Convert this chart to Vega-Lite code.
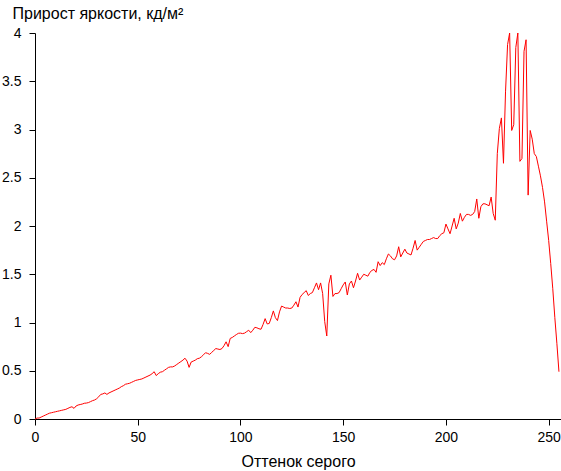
{
  "$schema": "https://vega.github.io/schema/vega-lite/v6.json",
  "width": 526,
  "height": 386,
  "autosize": "none",
  "padding": {"left": 35, "top": 33, "right": 0, "bottom": 52},
  "background": "white",
  "data": {"values": [
    {"g":0,"v":0.00},{"g":1,"v":0.01},{"g":2,"v":0.01},{"g":3,"v":0.02},{"g":4,"v":0.03},{"g":5,"v":0.04},{"g":6,"v":0.05},{"g":7,"v":0.06},{"g":8,"v":0.065},{"g":9,"v":0.07},
    {"g":10,"v":0.075},{"g":11,"v":0.08},{"g":12,"v":0.085},{"g":13,"v":0.09},{"g":14,"v":0.095},{"g":15,"v":0.10},{"g":16,"v":0.11},{"g":17,"v":0.12},{"g":18,"v":0.127},{"g":19,"v":0.11},
    {"g":20,"v":0.135},{"g":21,"v":0.145},{"g":22,"v":0.15},{"g":23,"v":0.155},{"g":24,"v":0.163},{"g":25,"v":0.165},{"g":26,"v":0.17},{"g":27,"v":0.18},{"g":28,"v":0.19},{"g":29,"v":0.197},
    {"g":30,"v":0.21},{"g":31,"v":0.23},{"g":32,"v":0.255},{"g":33,"v":0.26},{"g":34,"v":0.27},{"g":35,"v":0.255},{"g":36,"v":0.27},{"g":37,"v":0.28},{"g":38,"v":0.29},{"g":39,"v":0.30},
    {"g":40,"v":0.31},{"g":41,"v":0.32},{"g":42,"v":0.335},{"g":43,"v":0.345},{"g":44,"v":0.36},{"g":45,"v":0.365},{"g":46,"v":0.37},{"g":47,"v":0.38},{"g":48,"v":0.39},{"g":49,"v":0.40},
    {"g":50,"v":0.405},{"g":51,"v":0.41},{"g":52,"v":0.415},{"g":53,"v":0.425},{"g":54,"v":0.435},{"g":55,"v":0.445},{"g":56,"v":0.455},{"g":57,"v":0.47},{"g":58,"v":0.49},{"g":59,"v":0.45},
    {"g":60,"v":0.47},{"g":61,"v":0.485},{"g":62,"v":0.49},{"g":63,"v":0.505},{"g":64,"v":0.52},{"g":65,"v":0.535},{"g":66,"v":0.54},{"g":67,"v":0.54},{"g":68,"v":0.55},{"g":69,"v":0.565},
    {"g":70,"v":0.58},{"g":71,"v":0.595},{"g":72,"v":0.61},{"g":73,"v":0.63},{"g":74,"v":0.60},{"g":75,"v":0.535},{"g":76,"v":0.59},{"g":77,"v":0.60},{"g":78,"v":0.61},{"g":79,"v":0.625},
    {"g":80,"v":0.63},{"g":81,"v":0.645},{"g":82,"v":0.665},{"g":83,"v":0.687},{"g":84,"v":0.68},{"g":85,"v":0.67},{"g":86,"v":0.69},{"g":87,"v":0.71},{"g":88,"v":0.73},{"g":89,"v":0.725},
    {"g":90,"v":0.72},{"g":91,"v":0.73},{"g":92,"v":0.76},{"g":93,"v":0.80},{"g":94,"v":0.75},{"g":95,"v":0.835},{"g":96,"v":0.845},{"g":97,"v":0.86},{"g":98,"v":0.875},{"g":99,"v":0.888},
    {"g":100,"v":0.89},{"g":101,"v":0.885},{"g":102,"v":0.89},{"g":103,"v":0.905},{"g":104,"v":0.92},{"g":105,"v":0.895},{"g":106,"v":0.92},{"g":107,"v":0.95},{"g":108,"v":0.945},{"g":109,"v":0.935},
    {"g":110,"v":0.93},{"g":111,"v":0.98},{"g":112,"v":1.04},{"g":113,"v":0.985},{"g":114,"v":0.99},{"g":115,"v":1.05},{"g":116,"v":1.12},{"g":117,"v":1.05},{"g":118,"v":1.02},{"g":119,"v":1.11},
    {"g":120,"v":1.17},{"g":121,"v":1.16},{"g":122,"v":1.15},{"g":123,"v":1.15},{"g":124,"v":1.145},{"g":125,"v":1.15},{"g":126,"v":1.18},{"g":127,"v":1.215},{"g":128,"v":1.16},{"g":129,"v":1.26},
    {"g":130,"v":1.29},{"g":131,"v":1.31},{"g":132,"v":1.33},{"g":133,"v":1.28},{"g":134,"v":1.30},{"g":135,"v":1.31},{"g":136,"v":1.36},{"g":137,"v":1.41},{"g":138,"v":1.34},{"g":139,"v":1.41},
    {"g":140,"v":1.30},{"g":141,"v":1.01},{"g":142,"v":0.86},{"g":143,"v":1.40},{"g":144,"v":1.49},{"g":145,"v":1.27},{"g":146,"v":1.30},{"g":147,"v":1.30},{"g":148,"v":1.31},{"g":149,"v":1.35},
    {"g":150,"v":1.39},{"g":151,"v":1.42},{"g":152,"v":1.285},{"g":153,"v":1.40},{"g":154,"v":1.43},{"g":155,"v":1.36},{"g":156,"v":1.43},{"g":157,"v":1.51},{"g":158,"v":1.44},{"g":159,"v":1.47},
    {"g":160,"v":1.50},{"g":161,"v":1.49},{"g":162,"v":1.48},{"g":163,"v":1.52},{"g":164,"v":1.54},{"g":165,"v":1.55},{"g":166,"v":1.52},{"g":167,"v":1.63},{"g":168,"v":1.59},{"g":169,"v":1.62},
    {"g":170,"v":1.60},{"g":171,"v":1.66},{"g":172,"v":1.71},{"g":173,"v":1.69},{"g":174,"v":1.66},{"g":175,"v":1.65},{"g":176,"v":1.69},{"g":177,"v":1.785},{"g":178,"v":1.68},{"g":179,"v":1.72},
    {"g":180,"v":1.76},{"g":181,"v":1.72},{"g":182,"v":1.71},{"g":183,"v":1.70},{"g":184,"v":1.77},{"g":185,"v":1.85},{"g":186,"v":1.75},{"g":187,"v":1.78},{"g":188,"v":1.81},{"g":189,"v":1.84},
    {"g":190,"v":1.85},{"g":191,"v":1.86},{"g":192,"v":1.86},{"g":193,"v":1.87},{"g":194,"v":1.88},{"g":195,"v":1.87},{"g":196,"v":1.87},{"g":197,"v":1.90},{"g":198,"v":1.92},{"g":199,"v":1.93},
    {"g":200,"v":2.02},{"g":201,"v":1.97},{"g":202,"v":1.92},{"g":203,"v":2.00},{"g":204,"v":2.08},{"g":205,"v":1.97},{"g":206,"v":2.03},{"g":207,"v":2.13},{"g":208,"v":2.05},{"g":209,"v":2.09},
    {"g":210,"v":2.12},{"g":211,"v":2.12},{"g":212,"v":2.11},{"g":213,"v":2.12},{"g":214,"v":2.15},{"g":215,"v":2.28},{"g":216,"v":2.08},{"g":217,"v":2.20},{"g":218,"v":2.23},{"g":219,"v":2.23},
    {"g":220,"v":2.22},{"g":221,"v":2.21},{"g":222,"v":2.30},{"g":223,"v":2.13},{"g":224,"v":2.06},{"g":225,"v":2.75},{"g":226,"v":3.01},{"g":227,"v":3.12},{"g":228,"v":2.65},{"g":229,"v":3.39},
    {"g":230,"v":3.88},{"g":231,"v":4.00},{"g":232,"v":2.99},{"g":233,"v":3.05},{"g":234,"v":3.85},{"g":235,"v":4.00},{"g":236,"v":2.67},{"g":237,"v":2.70},{"g":238,"v":3.81},{"g":239,"v":3.93},
    {"g":240,"v":2.32},{"g":241,"v":2.99},{"g":242,"v":2.90},{"g":243,"v":2.75},{"g":244,"v":2.72},{"g":245,"v":2.62},{"g":246,"v":2.52},{"g":247,"v":2.40},{"g":248,"v":2.25},{"g":249,"v":2.05},
    {"g":250,"v":1.85},{"g":251,"v":1.61},{"g":252,"v":1.35},{"g":253,"v":1.05},{"g":254,"v":0.78},{"g":255,"v":0.49}
  ]},
  "mark": {"type": "line", "color": "#ff0000", "strokeWidth": 1, "clip": false},
  "encoding": {
    "x": {
      "field": "g", "type": "quantitative",
      "scale": {"domain": [0, 256], "nice": false, "zero": false},
      "axis": {
        "title": "Оттенок серого",
        "values": [0, 50, 100, 150, 200, 250],
        "format": "d",
        "labelPadding": 5,
        "titlePadding": 9,
        "labelFlush": false,
        "labelOverlap": false
      }
    },
    "y": {
      "field": "v", "type": "quantitative",
      "scale": {"domain": [0, 4], "nice": false},
      "axis": {
        "title": "Прирост яркости, кд/м²",
        "values": [0, 0.5, 1, 1.5, 2, 2.5, 3, 3.5, 4],
        "format": "~g",
        "labelPadding": 8,
        "labelFlush": false,
        "labelOverlap": false,
        "titleAngle": 0,
        "titleAlign": "left",
        "titleBaseline": "alphabetic",
        "titleX": -23,
        "titleY": -15
      }
    }
  },
  "config": {
    "view": {"stroke": null},
    "font": "Liberation Sans",
    "axis": {
      "grid": false,
      "domainColor": "#000000",
      "tickColor": "#000000",
      "labelColor": "#000000",
      "titleColor": "#000000",
      "labelFont": "Liberation Sans",
      "titleFont": "Liberation Sans",
      "labelFontSize": 14,
      "titleFontSize": 16,
      "titleFontWeight": "normal",
      "tickSize": 6,
      "domainWidth": 1,
      "tickWidth": 1
    }
  }
}
